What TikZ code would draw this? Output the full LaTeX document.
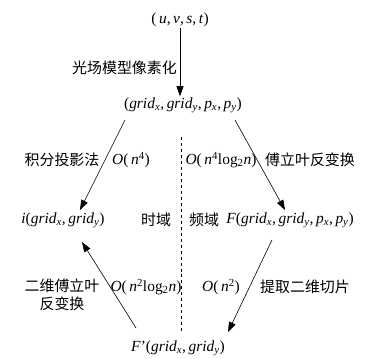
\documentclass[tikz,border=0pt]{standalone}
\usepackage{fontspec}
\setmainfont{Liberation Serif}
\newfontfamily\cjk{Noto Sans CJK SC}
\usepackage{tikz}
\usetikzlibrary{arrows.meta,positioning,calc}
\newcommand{\vi}[1]{\textit{#1}}
\newcommand{\gridx}{\vi{grid}\textsubscript{\vi{x}}}
\newcommand{\gridy}{\vi{grid}\textsubscript{\vi{y}}}
\newcommand{\px}{\vi{p}\textsubscript{\vi{x}}}
\newcommand{\py}{\vi{p}\textsubscript{\vi{y}}}
\newcommand{\lgn}{log\textsubscript{2}\vi{n}}
\newcommand{\cm}{,\,}

\begin{document}
\begin{tikzpicture}[
  x=1bp,y=-1bp,font=\fontsize{15.5}{17}\selectfont,
  term/.style={inner sep=1bp},
  lbl/.style={font=\cjk\fontsize{15}{18}\selectfont,inner sep=0pt,align=center},
  cost/.style={inner sep=0pt},
  flow/.style={-{Triangle[length=10bp,width=7bp]},line width=.6pt},
  split/.style={dashed,line width=.6pt}
]
\useasboundingbox (0,0) rectangle (365,359);
% terms
\node[term] (uvst) at (180,20)  {(\,\vi{u}\cm\vi{v}\cm\vi{s}\cm\vi{t})};
\node[term] (grid) at (183,105) {(\gridx\cm\gridy\cm\px\cm\py)};
\node[term] (img)  at (63,220)  {\vi{i}(\gridx\cm\gridy)};
\node[term] (four) at (290,220) {\vi{F}(\gridx\cm\gridy\cm\px\cm\py)};
\node[term] (slc)  at (178,348) {\vi{F}'(\gridx\cm\gridy)};
% arrows
\draw[flow] (uvst.south) -- (uvst.south |- grid.north);
\draw[flow] ($(grid)+(-58,15)$) -- ($(img)+(17,-10)$);
\draw[flow] ($(grid)+(52,15)$) -- ($(four)+(-5,-10)$);
\draw[flow] ($(four)+(-18,20)$) -- ($(slc)+(50,-16)$);
\draw[flow] ($(slc)+(-42,-20)$) -- ($(img)+(19,22)$);
% domain split
\coordinate (s0) at (181,137);
\coordinate (s1) at (181,331);
\draw[split] (s0) -- (s1);
% labels
\node[lbl,anchor=east] (pix)  at (177,68)  {光场模型像素化};
\node[lbl] (proj) at (62,160)  {积分投影法};
\node[cost] (c1) at (131,160) {\vi{O}(\,\vi{n}\textsuperscript{4})};
\node[cost] (c2) at (221,160) {\vi{O}(\,\vi{n}\textsuperscript{4}\lgn)};
\node[lbl] (ift) at (310,160) {傅立叶反变换};
\node[lbl] (td)  at (156,220) {时域};
\node[lbl] (fd)  at (204,220) {频域};
\node[lbl] (ift2) at (62,295) {二维傅立叶\\反变换};
\node[cost] (c3) at (146,287) {\vi{O}(\,\vi{n}\textsuperscript{2}\lgn)};
\node[cost] (c4) at (221,287) {\vi{O}(\,\vi{n}\textsuperscript{2})};
\node[lbl] (cut) at (305,287) {提取二维切片};
\end{tikzpicture}
\end{document}
